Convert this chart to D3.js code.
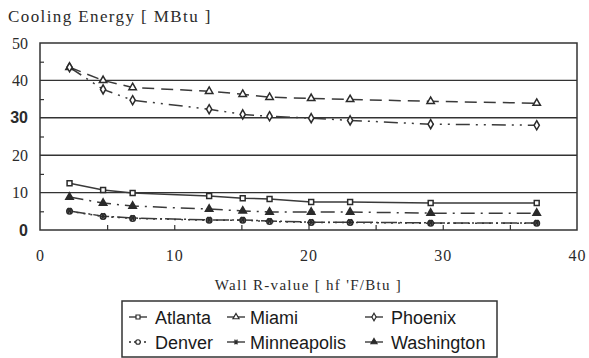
<!DOCTYPE html>
<html lang="en">
<head>
<meta charset="utf-8">
<title>Cooling Energy vs Wall R-value</title>
<script src="https://d3js.org/d3.v7.min.js"></script>
<style>
  body { margin: 0; background: #fff; }
</style>
</head>
<body>
<script type="text/javascript">
// data
var rValues     = [2.2, 4.7, 6.9, 12.6, 15.1, 17.1, 20.2, 23.1, 29.1, 37.0];
var miami       = [43.5, 40.0, 38.1, 37.1, 36.3, 35.5, 35.2, 34.9, 34.4, 33.9];
var phoenix     = [43.5, 37.6, 34.7, 32.3, 30.9, 30.4, 29.9, 29.3, 28.3, 28.0];
var atlanta     = [12.5, 10.7, 9.9, 9.1, 8.5, 8.3, 7.5, 7.5, 7.2, 7.2];
var washington  = [8.8, 7.2, 6.4, 5.6, 5.1, 4.8, 4.8, 4.8, 4.5, 4.5];
var minneapolis = [5.1, 3.7, 3.2, 2.7, 2.7, 2.4, 2.1, 2.1, 1.9, 1.9];
var denver      = [5.0, 3.6, 3.1, 2.6, 2.6, 2.3, 2.0, 2.0, 1.8, 1.8];

var xTicks = [0, 10, 20, 30, 40];
var yTicks = [0, 10, 20, 30, 40, 50];
var gridValues = [10, 20, 30, 40];

var w = 589;
var h = 358;
var ink = '#2b2b2b';

var xScale = d3.scaleLinear().domain([0, 40]).range([40, 577]);
var yScale = d3.scaleLinear().domain([0, 50]).range([230, 43]);

var svg = d3.select('body').append('svg')
    .attr('width', w)
    .attr('height', h);

// custom asterisk marker
var asterisk = {
    draw: function(ctx, size) {
        var r = Math.sqrt(size) * 0.6;
        ctx.moveTo(-r, 0); ctx.lineTo(r, 0);
        ctx.moveTo(-r * 0.6, -r); ctx.lineTo(r * 0.6, r);
        ctx.moveTo(r * 0.6, -r); ctx.lineTo(-r * 0.6, r);
    }
};

var series = [
    { name: 'Atlanta',     values: atlanta,     sym: d3.symbolSquare,   fill: '#fff', dash: null,            col: 0, row: 0 },
    { name: 'Miami',       values: miami,       sym: d3.symbolTriangle, fill: '#fff', dash: '12,7',          col: 1, row: 0 },
    { name: 'Phoenix',     values: phoenix,     sym: d3.symbolDiamond,  fill: '#fff', dash: '14,6,2,6,2,6',  col: 2, row: 0 },
    { name: 'Denver',      values: denver,      sym: d3.symbolCircle,   fill: '#fff', dash: '2,5',           col: 0, row: 1 },
    { name: 'Minneapolis', values: minneapolis, sym: asterisk,          fill: 'none', dash: '16,3,2,3',      col: 1, row: 1 },
    { name: 'Washington',  values: washington,  sym: d3.symbolTriangle, fill: ink,    dash: '14,6,2,6',      col: 2, row: 1 }
];

// title
svg.append('text')
    .attr('x', 8)
    .attr('y', 22)
    .attr('font-family', 'Liberation Serif, serif')
    .attr('font-size', '17px')
    .attr('letter-spacing', '1.4px')
    .attr('fill', ink)
    .text('Cooling Energy [ MBtu ]');

// gridlines
svg.selectAll('line.grid')
    .data(gridValues)
    .enter()
    .append('line')
    .attr('class', 'grid')
    .attr('x1', xScale(0))
    .attr('x2', xScale(40))
    .attr('y1', function(d) { return yScale(d); })
    .attr('y2', function(d) { return yScale(d); })
    .attr('stroke', '#333')
    .attr('stroke-width', 1.4);

// frame
svg.append('rect')
    .attr('x', xScale(0))
    .attr('y', yScale(50))
    .attr('width', xScale(40) - xScale(0))
    .attr('height', yScale(0) - yScale(50))
    .attr('fill', 'none')
    .attr('stroke', '#333')
    .attr('stroke-width', 1.5);

// x axis labels
var xAxis = svg.append('g')
    .attr('transform', 'translate(0,' + yScale(0) + ')')
    .call(d3.axisBottom(xScale).tickValues(xTicks).tickSize(0).tickPadding(20));
xAxis.select('.domain').remove();
xAxis.selectAll('text')
    .attr('font-family', 'Liberation Serif, serif')
    .attr('font-size', '16px')
    .attr('letter-spacing', '1px')
    .attr('fill', ink);

// minor ticks on x
var xMinor = svg.append('g')
    .attr('transform', 'translate(0,' + yScale(0) + ')')
    .call(d3.axisBottom(xScale).tickValues([5, 10, 15, 20, 25, 30, 35]).tickSize(-5).tickFormat(''));
xMinor.select('.domain').remove();
xMinor.selectAll('line').attr('stroke', '#333').attr('stroke-width', 1.2);

// y axis labels
var yAxis = svg.append('g')
    .attr('transform', 'translate(' + xScale(0) + ',0)')
    .call(d3.axisLeft(yScale).tickValues(yTicks).tickSize(0).tickPadding(12));
yAxis.select('.domain').remove();
yAxis.selectAll('text')
    .attr('font-family', function(d) { return (d === 30 || d === 0) ? 'Liberation Sans, sans-serif' : 'Liberation Serif, serif'; })
    .attr('font-weight', function(d) { return (d === 30 || d === 0) ? 'bold' : 'normal'; })
    .attr('font-size', '16px')
    .attr('fill', ink);

// minor ticks on y
var yMinor = svg.append('g')
    .attr('transform', 'translate(' + xScale(0) + ',0)')
    .call(d3.axisLeft(yScale).tickValues([5, 15, 25, 35, 45]).tickSize(-4).tickFormat(''));
yMinor.select('.domain').remove();
yMinor.selectAll('line').attr('stroke', '#333').attr('stroke-width', 1.2);

// x axis title
svg.append('text')
    .attr('x', (xScale(0) + xScale(40)) / 2)
    .attr('y', 290)
    .attr('text-anchor', 'middle')
    .attr('font-family', 'Liberation Serif, serif')
    .attr('font-size', '15px')
    .attr('letter-spacing', '1.3px')
    .attr('fill', ink)
    .text("Wall R-value [ hf 'F/Btu ]");

// lines
var line = d3.line()
    .x(function(d, i) { return xScale(rValues[i]); })
    .y(function(d) { return yScale(d); });

svg.selectAll('path.series')
    .data(series)
    .enter()
    .append('path')
    .attr('class', 'series')
    .attr('d', function(d) { return line(d.values); })
    .attr('fill', 'none')
    .attr('stroke', '#3a3a3a')
    .attr('stroke-width', 1.5)
    .attr('stroke-dasharray', function(d) { return d.dash; });

// markers
series.forEach(function(s) {
    svg.selectAll(null)
        .data(s.values)
        .enter()
        .append('path')
        .attr('d', d3.symbol().type(s.sym).size(24))
        .attr('transform', function(d, i) {
            return 'translate(' + xScale(rValues[i]) + ',' + yScale(d) + ')';
        })
        .attr('fill', s.fill)
        .attr('stroke', ink)
        .attr('stroke-width', 1.5);
});

// legend
var legend = svg.append('g');
legend.append('rect')
    .attr('x', 122)
    .attr('y', 301)
    .attr('width', 375)
    .attr('height', 56)
    .attr('fill', '#fff')
    .attr('stroke', '#333')
    .attr('stroke-width', 1.5);

var colX = [129, 227, 365];
var rowY = [317, 342];

var items = legend.selectAll('g.item')
    .data(series)
    .enter()
    .append('g')
    .attr('class', 'item')
    .attr('transform', function(d) { return 'translate(' + colX[d.col] + ',' + rowY[d.row] + ')'; });

items.append('line')
    .attr('x1', 0)
    .attr('x2', 18)
    .attr('stroke', ink)
    .attr('stroke-width', 1.3)
    .attr('stroke-dasharray', function(d) { return d.name === 'Denver' ? '2,3' : null; });

items.append('path')
    .attr('d', function(d) { return d3.symbol().type(d.sym).size(16)(); })
    .attr('transform', 'translate(9,0)')
    .attr('fill', function(d) { return d.fill; })
    .attr('stroke', ink)
    .attr('stroke-width', 1.2);

items.append('text')
    .attr('x', function(d) { return d.col === 1 ? 23 : 26; })
    .attr('y', 6.5)
    .attr('font-family', 'Liberation Sans, Arial, sans-serif')
    .attr('font-size', '18px')
    .attr('fill', '#1a1a1a')
    .text(function(d) { return d.name; });
</script>
</body>
</html>
